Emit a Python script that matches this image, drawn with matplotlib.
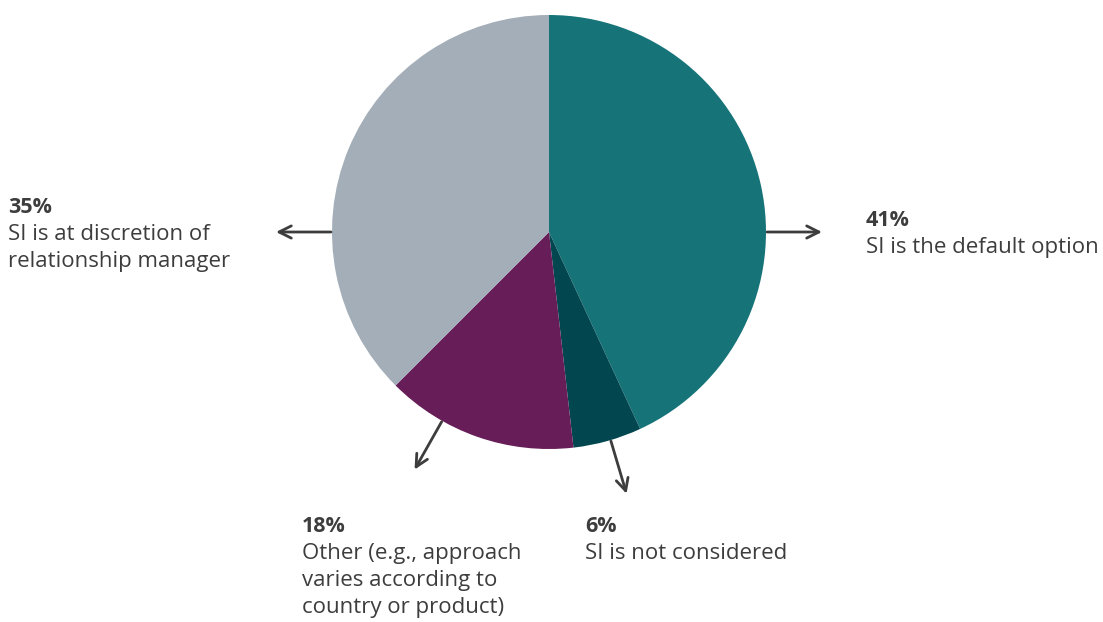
import numpy as np
import matplotlib
matplotlib.use("Agg")
import matplotlib.pyplot as plt

# Data (slice shares, labels as printed)
categories = [["SI is the default option"],
              ["SI is not considered"],
              ["Other (e.g., approach", "varies according to", "country or product)"],
              ["SI is at discretion of", "relationship manager"]]
pct_labels = ["41%", "6%", "18%", "35%"]
shares = [43.1, 5.1, 14.3, 37.5]
colors = ["#167479", "#024750", "#661d58", "#a3aeb8"]

W, H = 1103, 622
TEXT = "#3d3d3d"
plt.rcParams['font.family'] = ['Open Sans', 'DejaVu Sans']

fig = plt.figure(figsize=(W / 100, H / 100), dpi=100)
ax = fig.add_axes([0, 0, 1, 1])

cx, cy, r = 549, H - 232, 217
ax.pie(shares, colors=colors, startangle=90, counterclock=False,
       center=(cx, cy), radius=r, wedgeprops=dict(linewidth=0))

# arrows pointing out of the pie (angle in degrees, label baseline in px from top-left)
arrow_angles = [0, -73.5, -119.5, 180]
label_pos = [(866, 226), (585, 532), (302, 532), (8, 213)]
line_gap = 27

for ang, (tx, ty), pct, lines in zip(arrow_angles, label_pos, pct_labels, categories):
    a = np.deg2rad(ang)
    start = (cx + (r + 1) * np.cos(a), cy + (r + 1) * np.sin(a))
    end = (cx + (r + 56) * np.cos(a), cy + (r + 56) * np.sin(a))
    ax.annotate("", xy=end, xytext=start,
                arrowprops=dict(arrowstyle="->", lw=2, color=TEXT,
                                shrinkA=0, shrinkB=0, mutation_scale=22))
    ax.text(tx, H - ty, pct, fontsize=15.5, fontweight="bold", color=TEXT,
            ha="left", va="baseline")
    for i, line in enumerate(lines):
        ax.text(tx, H - ty - line_gap * (i + 1), line, fontsize=16, color=TEXT,
                ha="left", va="baseline")

ax.set_xlim(0, W)
ax.set_ylim(0, H)
ax.set_aspect("equal")
ax.set_axis_off()

fig.savefig("out.png", dpi=100)
